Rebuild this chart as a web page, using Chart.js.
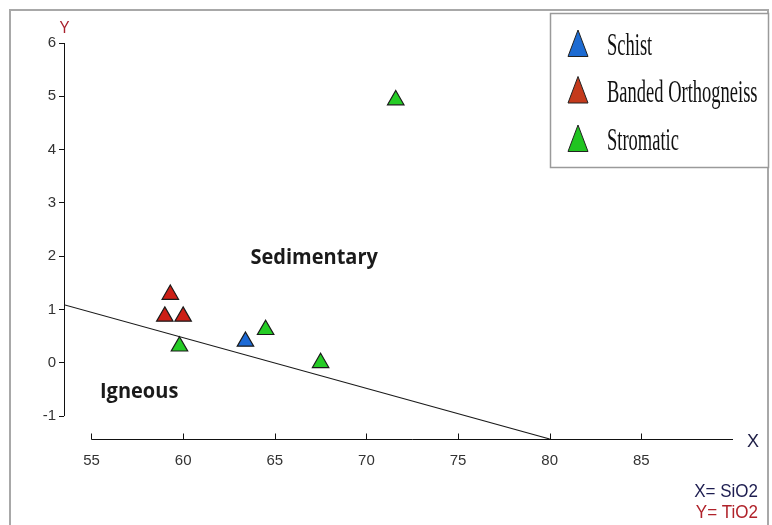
<!DOCTYPE html>
<html>
<head>
<meta charset="utf-8">
<title>SiO2 vs TiO2</title>
<script src="https://cdn.jsdelivr.net/npm/chart.js@4.4.1/dist/chart.umd.min.js"></script>
<style>
  html, body { margin: 0; padding: 0; background: #fff; }
  #wrap { width: 772px; height: 525px; }
</style>
</head>
<body>
<div id="wrap"><canvas id="chart" width="772" height="525"></canvas></div>
<script>
// rock groups and their SiO2 / TiO2 values
const seriesNames = ['Schist', 'Banded Orthogneiss', 'Stromatic'];
const schistSiO2 = [63.4];
const schistTiO2 = [0.40];
const bandedSiO2 = [59.3, 59.0, 60.0];
const bandedTiO2 = [1.28, 0.87, 0.87];
const stromaticSiO2 = [59.8, 64.5, 67.5, 71.6];
const stromaticTiO2 = [0.31, 0.62, 0.00, 4.93];

// igneous / sedimentary divider
const dividerSiO2 = [53.5, 80];
const dividerTiO2 = [1.09, -1.43];

const xTicks = [55, 60, 65, 70, 75, 80, 85];
const yTicks = [-1, 0, 1, 2, 3, 4, 5, 6];

const pointColors = ['#1c6ad6', '#cc1f16', '#25cc25'];
const legendColors = ['#1d6bd2', '#c43a1c', '#20c420'];

function toPoints(xs, ys) {
  return xs.map((x, i) => ({ x: x, y: ys[i] }));
}

// text helper, the labels on this figure are drawn a little stretched vertically
function drawText(ctx, text, x, y, font, color, align, sy) {
  ctx.save();
  ctx.font = font;
  ctx.fillStyle = color;
  ctx.textAlign = align;
  ctx.textBaseline = 'alphabetic';
  ctx.translate(x, y);
  ctx.scale(1, sy || 1);
  ctx.fillText(text, 0, 0);
  ctx.restore();
}

const framePlugin = {
  id: 'frame',
  beforeDraw(chart) {
    const ctx = chart.ctx;
    ctx.save();
    ctx.fillStyle = '#fff';
    ctx.fillRect(0, 0, chart.width, chart.height);
    ctx.strokeStyle = '#a8a8a8';
    ctx.lineWidth = 2;
    ctx.strokeRect(10, 10, 758, 530);
    ctx.restore();
  },
  afterDraw(chart) {
    const ctx = chart.ctx;
    const xs = chart.scales.x;
    const ys = chart.scales.y;
    const area = chart.chartArea;

    ctx.save();
    ctx.strokeStyle = '#111';
    ctx.lineWidth = 1;

    // y axis line, only between first and last tick
    const yx = Math.round(area.left) + 0.5;
    ctx.beginPath();
    ctx.moveTo(yx, ys.getPixelForValue(yTicks[yTicks.length - 1]));
    ctx.lineTo(yx, ys.getPixelForValue(yTicks[0]));
    ctx.stroke();

    // x axis line starts at the first tick and runs to the end of the scale
    const xy = Math.round(area.bottom) + 0.5;
    ctx.beginPath();
    ctx.moveTo(xs.getPixelForValue(xTicks[0]), xy);
    ctx.lineTo(xs.getPixelForValue(xs.max), xy);
    ctx.stroke();

    // x tick marks point up into the plot
    xTicks.forEach(v => {
      const px = Math.round(xs.getPixelForValue(v)) + 0.5;
      ctx.beginPath();
      ctx.moveTo(px, xy);
      ctx.lineTo(px, xy - 6);
      ctx.stroke();
    });
    ctx.restore();

    // axis letters
    drawText(ctx, 'Y', yx, 33, '15px "Liberation Sans"', '#a8202c', 'center', 1.1);
    drawText(ctx, 'X', 753, 447, '18px "Liberation Sans"', '#1d1d45', 'center', 1);

    // field names
    drawText(ctx, 'Sedimentary', xs.getPixelForValue(67.15), ys.getPixelForValue(1.85),
      'bold 20px "Open Sans"', '#1a1a1a', 'center', 1.05);
    drawText(ctx, 'Igneous', xs.getPixelForValue(57.6), ys.getPixelForValue(-0.66),
      'bold 20px "Open Sans"', '#1a1a1a', 'center', 1.05);

    // variable key
    drawText(ctx, 'X= SiO2', 758, 497, '17px "Liberation Sans"', '#1d1d50', 'right', 1.05);
    drawText(ctx, 'Y= TiO2', 758, 518, '17px "Liberation Sans"', '#b0222a', 'right', 1.05);

    // legend box
    ctx.save();
    ctx.fillStyle = '#fff';
    ctx.fillRect(550, 13, 219, 155);
    ctx.strokeStyle = '#9a9a9a';
    ctx.lineWidth = 1.5;
    ctx.strokeRect(550.5, 13.5, 218, 154);
    const baselines = [55, 101.5, 150];
    seriesNames.forEach((name, i) => {
      const base = baselines[i];
      ctx.beginPath();
      ctx.moveTo(578, base - 25);
      ctx.lineTo(588, base + 1.5);
      ctx.lineTo(568, base + 1.5);
      ctx.closePath();
      ctx.fillStyle = legendColors[i];
      ctx.fill();
      ctx.strokeStyle = '#222';
      ctx.lineWidth = 1;
      ctx.stroke();
      drawText(ctx, name, 607, base, '18.5px "Liberation Serif"', '#111', 'left', 1.65);
    });
    ctx.restore();
  }
};

const triangleStyle = (color) => ({
  pointStyle: 'triangle',
  pointRadius: 9.5,
  pointHoverRadius: 9.5,
  backgroundColor: color,
  borderColor: '#1a1a1a',
  borderWidth: 1.2,
  showLine: false,
  order: 1
});

new Chart(document.getElementById('chart'), {
  type: 'scatter',
  data: {
    datasets: [
      Object.assign({ label: seriesNames[0], data: toPoints(schistSiO2, schistTiO2) }, triangleStyle(pointColors[0])),
      Object.assign({ label: seriesNames[1], data: toPoints(bandedSiO2, bandedTiO2) }, triangleStyle(pointColors[1])),
      Object.assign({ label: seriesNames[2], data: toPoints(stromaticSiO2, stromaticTiO2) }, triangleStyle(pointColors[2])),
      {
        label: 'divider',
        data: toPoints(dividerSiO2, dividerTiO2),
        showLine: true,
        pointRadius: 0,
        borderColor: '#1a1a1a',
        borderWidth: 1.1,
        order: 10
      }
    ]
  },
  options: {
    responsive: false,
    animation: false,
    devicePixelRatio: 1,
    layout: { padding: { top: 43, right: 39, left: 0, bottom: 0 } },
    plugins: {
      legend: { display: false },
      tooltip: { enabled: false }
    },
    scales: {
      x: {
        type: 'linear',
        min: 53.5,
        max: 90,
        afterFit: s => { s.height = 86; },
        afterBuildTicks: s => { s.ticks = xTicks.map(v => ({ value: v })); },
        grid: { display: false, drawTicks: false },
        border: { display: false },
        ticks: {
          autoSkip: false,
          maxRotation: 0,
          padding: 13,
          color: '#333',
          font: { family: 'Liberation Sans', size: 15 }
        }
      },
      y: {
        type: 'linear',
        min: -1.43,
        max: 6,
        afterFit: s => { s.width = 64; },
        afterBuildTicks: s => { s.ticks = yTicks.map(v => ({ value: v })); },
        grid: { display: true, drawOnChartArea: false, drawTicks: true, tickLength: 5, color: '#111' },
        border: { display: false },
        ticks: {
          padding: 3,
          color: '#333',
          font: { family: 'Liberation Sans', size: 15 }
        }
      }
    }
  },
  plugins: [framePlugin]
});
</script>
</body>
</html>
